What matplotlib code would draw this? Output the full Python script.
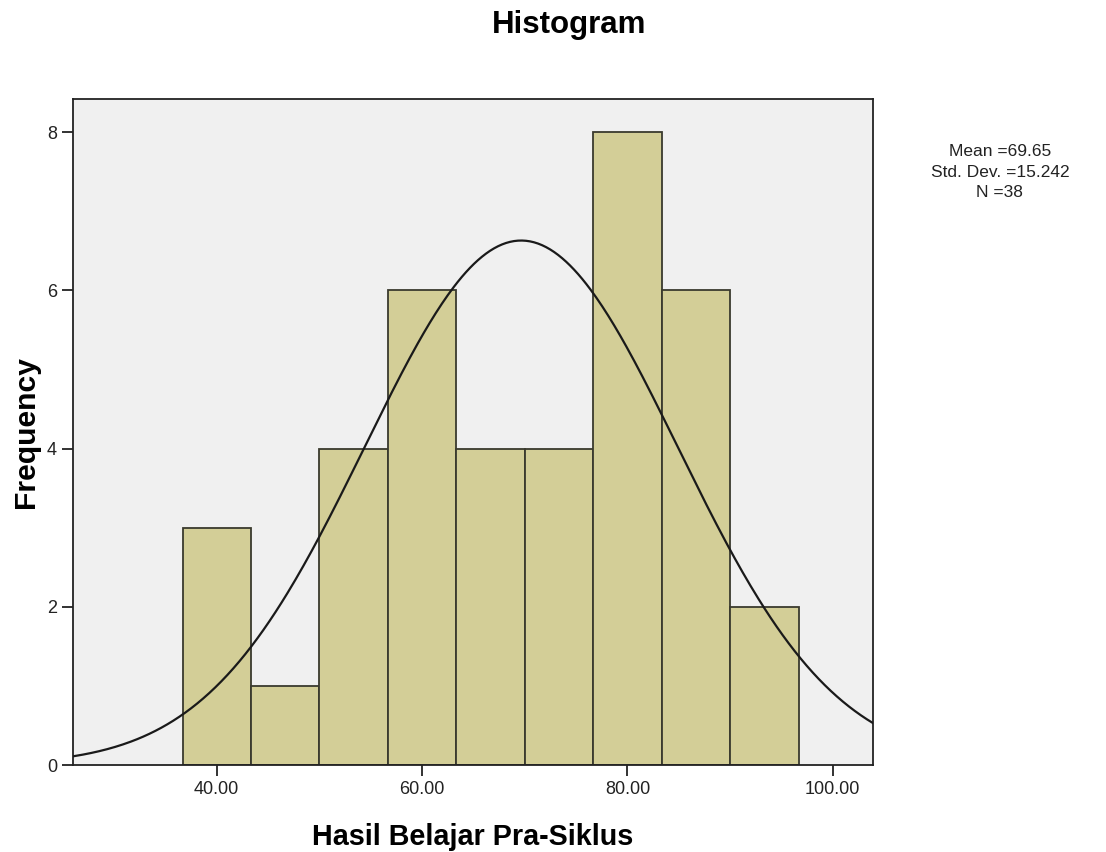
import numpy as np
import matplotlib.pyplot as plt

plt.rcParams['font.family'] = ['Liberation Sans', 'DejaVu Sans']

# histogram data
bin_edges = [36.667, 43.333, 50.0, 56.667, 63.333, 70.0, 76.667, 83.333, 90.0, 96.667]
counts = [3, 1, 4, 6, 4, 4, 8, 6, 2]
mean = 69.65
std = 15.242
n = 38
xticks = [40, 60, 80, 100]
yticks = [0, 2, 4, 6, 8]

fig = plt.figure(figsize=(11.06, 8.52), dpi=100)
ax = fig.add_axes([0.066, 0.1021, 0.7232, 0.7817])
ax.set_facecolor('#f0f0f0')

widths = np.diff(bin_edges)
ax.bar(bin_edges[:-1], counts, width=widths, align='edge',
       color='#d3ce97', edgecolor='#3a3a2e', linewidth=1.3, zorder=2)

# normal curve scaled to counts
bw = widths.mean()
xs = np.linspace(26.0, 103.9, 400)
ys = n * bw / (std * np.sqrt(2 * np.pi)) * np.exp(-0.5 * ((xs - mean) / std) ** 2)
ax.plot(xs, ys, color='#1a1a1a', linewidth=1.6, zorder=3)

ax.set_xlim(26.0, 103.9)
ax.set_ylim(0, 8.42)
ax.set_xticks(xticks)
ax.set_xticklabels([f'{t:.2f}' for t in xticks])
ax.set_yticks(yticks)
ax.tick_params(axis='both', labelsize=13, length=8, width=1.3, color='#222222',
               labelcolor='#222222')
for s in ax.spines.values():
    s.set_linewidth(1.3)
    s.set_color('#222222')

ax.set_xlabel('Hasil Belajar Pra-Siklus', fontsize=20.7, fontweight='bold', labelpad=18)
ax.set_ylabel('Frequency', fontsize=21.7, fontweight='bold', labelpad=5)
fig.text(0.515, 0.971, 'Histogram', fontsize=22.5, fontweight='bold', ha='center', va='center')

fig.text(0.904, 0.798, f'Mean ={mean}\nStd. Dev. ={std}\nN ={n}', fontsize=12.5,
         ha='center', va='center', linespacing=1.45, color='#222222')

fig.savefig('out.png', dpi=100)
